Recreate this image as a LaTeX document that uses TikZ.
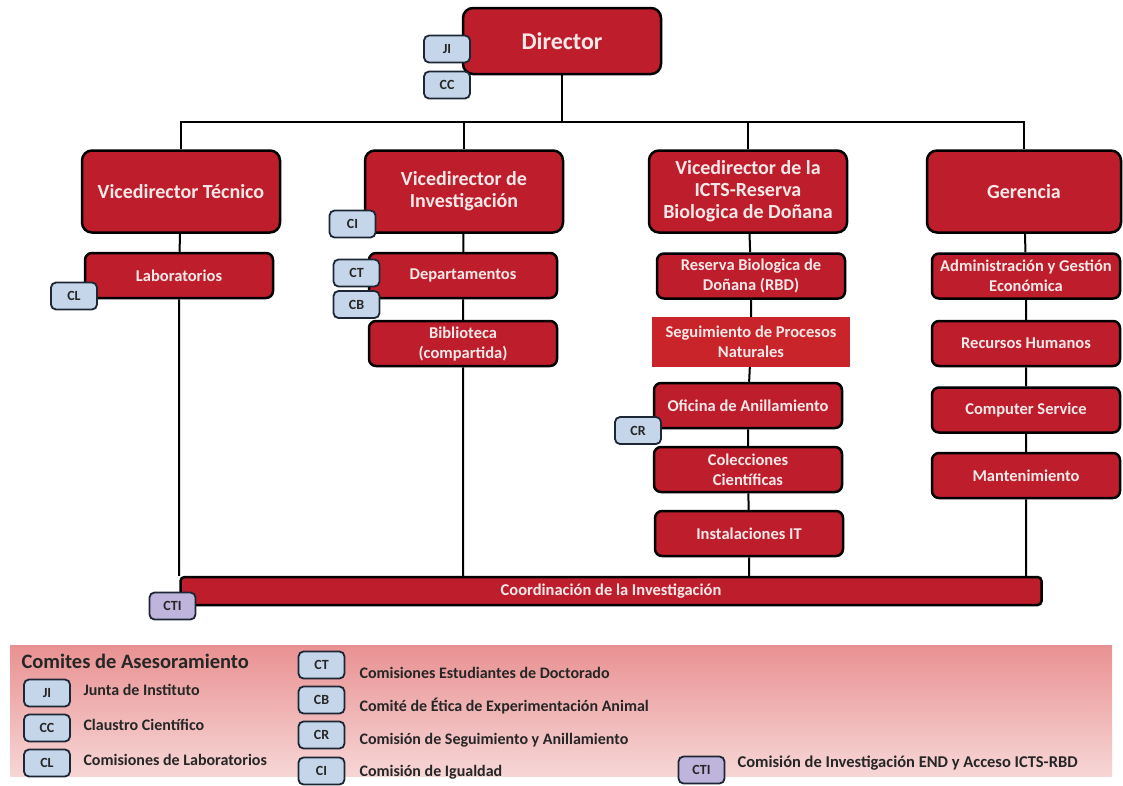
\documentclass[tikz,border=0pt]{standalone}
\usepackage{fontspec}
\setmainfont{Carlito}
\usepackage{tikz}
\usetikzlibrary{positioning,calc}

\definecolor{orgred}{RGB}{190,30,44}
\definecolor{segred}{RGB}{200,36,42}
\definecolor{paper}{RGB}{246,232,232}
\definecolor{badgefill}{RGB}{198,214,234}
\definecolor{badgeline}{RGB}{28,38,52}
\definecolor{ctifill}{RGB}{190,180,220}
\definecolor{legtop}{RGB}{233,145,146}
\definecolor{legbot}{RGB}{247,214,214}

\begin{document}
\begin{tikzpicture}[x=1pt,y=-1pt,
  chief/.style={rectangle, draw=black, line width=2.5pt, rounded corners=10pt, fill=orgred, minimum width=198pt, minimum height=82pt, align=center, text=paper, font=\bfseries\fontsize{20}{22}\selectfont},
  unit/.style={rectangle, draw=black, line width=2.5pt, rounded corners=7pt, fill=orgred, minimum width=188pt, minimum height=45pt, inner sep=1pt, align=center, text=paper, font=\bfseries\fontsize{16.5}{20}\selectfont},
  plainunit/.style={rectangle, fill=segred, minimum width=198pt, minimum height=50pt, inner sep=1pt, align=center, text=paper, font=\bfseries\fontsize{16.5}{20}\selectfont},
  badge/.style={rectangle, draw=badgeline, line width=1.8pt, rounded corners=5pt, fill=badgefill, minimum width=46pt, minimum height=27pt, font=\bfseries\fontsize{14}{16}\selectfont, text=black!85},
  ctibadge/.style={badge, fill=ctifill},
  legtext/.style={anchor=west, font=\bfseries\fontsize{16}{18}\selectfont, text=black!85},
  link/.style={line width=2pt, draw=black}
]
\useasboundingbox (0,0) rectangle (1123,785);

% top
\node[chief, minimum height=66pt, font=\bfseries\fontsize{24}{26}\selectfont] (dir) at (562,41) {Director};

% vicedirectores
\node[chief] (vt) at (181,191.5) {Vicedirector Técnico};
\node[chief] (vi) at (464,191.5) {Vicedirector de\\Investigación};
\node[chief] (vr) at (748,191.5) {Vicedirector de la\\ICTS-Reserva\\Biologica de Doñana};
\node[chief, minimum width=194pt] (ger) at (1024,191.5) {Gerencia};

% unidades
\node[unit] (lab) at (179,275.5) {Laboratorios};
\node[unit] (dep) at (463,275.5) {Departamentos};
\node[unit] (bib) at (463,343.5) {Biblioteca\\(compartida)};

\node[unit] (rbd) at (751,276) {Reserva Biologica de\\Doñana (RBD)};
\node[plainunit] (seg) at (751,342) {Seguimiento de Procesos\\Naturales};
\node[unit] (ofi) at (748,405.5) {Oficina de Anillamiento};
\node[unit] (col) at (748,469.5) {Colecciones\\Científicas};
\node[unit] (ins) at (749,533.5) {Instalaciones IT};

\node[unit] (adm) at (1026,276) {Administración y Gestión\\Económica};
\node[unit] (rrh) at (1026,343.5) {Recursos Humanos};
\node[unit] (inf) at (1026,410) {Computer Service};
\node[unit] (man) at (1026,475.5) {Mantenimiento};

\node[unit, rounded corners=4pt, minimum width=861pt, minimum height=28pt, font=\bfseries\fontsize{16.5}{18}\selectfont] (bar) at (611,591) {Coordinación de la Investigación};

% connectors
\draw[link] (dir.south) -- ++(0,47) coordinate (hub);
\draw[link] (vt.north) |- (hub) -| (ger.north);
\draw[link] (vi.north) -- (vi.north |- hub);
\draw[link] (vr.north) -- (vr.north |- hub);

\draw[link] (vt) -- (lab) -- (lab |- bar.north);
\draw[link] (vi) -- (dep) -- (bib) -- (bib |- bar.north);
\draw[link] (vr) -- (rbd) -- (seg) -- (ofi) -- (col) -- (ins) -- (ins |- bar.north);
\draw[link] (ger) -- (adm) -- (rrh) -- (inf) -- (man) -- (man |- bar.north);

% comites
\node[badge] (ji) at (447,49) {JI};
\node[badge] (cc) at (447,85) {CC};
\node[badge] (cl) at (74,296) {CL};
\node[badge] (ci) at (352.5,224) {CI};
\node[badge] (ct) at (356.5,273) {CT};
\node[badge] (cb) at (356.5,304.5) {CB};
\node[badge] (cr) at (638,430.5) {CR};
\node[ctibadge] (cti) at (172.5,606) {CTI};

% legend
\node[rectangle, top color=legtop, bottom color=legbot, minimum width=1102pt, minimum height=131pt, inner sep=0pt] (leg) at (561,710.5) {};
\node[anchor=west, font=\bfseries\fontsize{20.5}{22}\selectfont, text=black!85] (legtitle) at (18,661) {Comites de Asesoramiento};

\foreach \n/\y/\t in {JI/693/Junta de Instituto, CC/728/Claustro Científico, CL/763/Comisiones de Laboratorios}
  {\node[badge] (l\n) at (47,\y) {\n};
   \node[legtext] at (80,\y-3) {\t};}

\foreach \n/\y/\ty/\t in {CT/665/673/Comisiones Estudiantes de Doctorado, CB/700/706/Comité de Ética de Experimentación Animal, CR/735/740/Comisión de Seguimiento y Anillamiento, CI/771/772/Comisión de Igualdad}
  {\node[badge] (l\n) at (321.5,\y) {\n};
   \node[legtext] at (356,\ty) {\t};}

\node[ctibadge] (lcti) at (701.5,770) {CTI};
\node[legtext, font=\bfseries\fontsize{16.5}{18}\selectfont] at (734,763) {Comisión de Investigación END y Acceso ICTS-RBD};

\end{tikzpicture}
\end{document}
